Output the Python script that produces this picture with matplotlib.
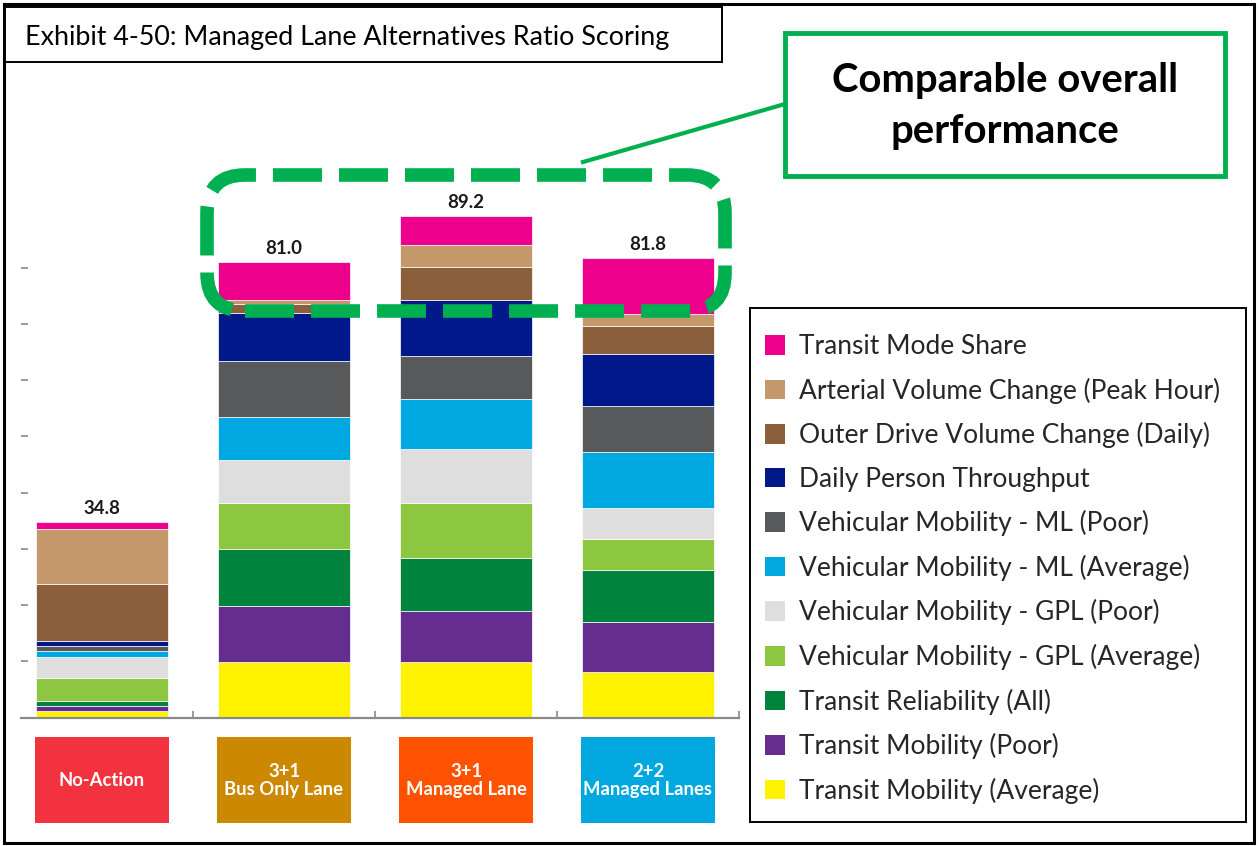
import matplotlib
matplotlib.use("Agg")
import matplotlib.pyplot as plt
from matplotlib.patches import Rectangle, FancyBboxPatch, Patch
from matplotlib.lines import Line2D
import numpy as np

plt.rcParams["font.family"] = ["Lato", "DejaVu Sans"]

# ---- data -------------------------------------------------------------
alternatives = ["No-Action", "3+1\nBus Only Lane", "3+1\nManaged Lane", "2+2\nManaged Lanes"]
alt_colors = ["#F2333F", "#CC8800", "#FF5200", "#00A8E0"]

# stacked from the bottom up
measures = [
    "Transit Mobility (Average)",
    "Transit Mobility (Poor)",
    "Transit Reliability (All)",
    "Vehicular Mobility - GPL (Average)",
    "Vehicular Mobility - GPL (Poor)",
    "Vehicular Mobility - ML (Average)",
    "Vehicular Mobility - ML (Poor)",
    "Daily Person Throughput",
    "Outer Drive Volume Change (Daily)",
    "Arterial Volume Change (Peak Hour)",
    "Transit Mode Share",
]
measure_colors = [
    "#FFF200", "#662D91", "#00843D", "#8DC63F", "#DEDEDE", "#00A8E1",
    "#58595B", "#00188A", "#8B5E3C", "#C4986B", "#EC008C",
]

transit_mobility_avg = [1.1, 9.9, 9.8, 8.1]
transit_mobility_poor = [0.9, 9.9, 9.1, 8.9]
transit_reliability = [1.0, 10.1, 9.5, 9.2]
gpl_average = [4.0, 8.3, 9.8, 5.6]
gpl_poor = [3.8, 7.6, 9.6, 5.5]
ml_average = [1.0, 7.7, 8.8, 9.9]
ml_poor = [0.9, 10.0, 7.7, 8.3]
person_throughput = [1.0, 8.5, 10.0, 9.1]
outer_drive_change = [10.0, 1.5, 5.9, 5.1]
arterial_change = [9.9, 0.8, 3.8, 2.1]
transit_mode_share = [1.2, 6.7, 5.2, 10.0]

series = [
    transit_mobility_avg, transit_mobility_poor, transit_reliability,
    gpl_average, gpl_poor, ml_average, ml_poor, person_throughput,
    outer_drive_change, arterial_change, transit_mode_share,
]
y_ticks = [0, 10, 20, 30, 40, 50, 60, 70, 80]

# ---- figure -----------------------------------------------------------
W, H = 1260, 846
fig = plt.figure(figsize=(W / 100, H / 100), dpi=100)
fig.patch.set_facecolor("white")


def px(x, y):
    """pixel position (from top-left) -> inches from bottom-left"""
    return (x / 100, (H - y) / 100)


inch = fig.dpi_scale_trans

# outer frame and exhibit title box
fig.add_artist(Rectangle(px(4, 843), 12.50, 8.39, transform=inch, fill=False,
                         ec="black", lw=2.2, zorder=1))
fig.add_artist(Rectangle(px(5, 62), 7.17, 0.55, transform=inch, fc="white",
                         ec="black", lw=1.4, zorder=2))
fig.text(*px(25, 37), "Exhibit 4-50: Managed Lane Alternatives Ratio Scoring",
         transform=inch, fontsize=19.35, va="center", ha="left", zorder=3)

# ---- stacked bars -----------------------------------------------------
ax = fig.add_axes([21 / W, (H - 717.5) / H, (739 - 21) / W, 562 / H])
ax.set_xlim(-0.445, 3.5)
ax.set_ylim(0, 100)
x = np.arange(len(alternatives))
bottom = np.zeros(len(alternatives))
containers = []
for vals, col in zip(series, measure_colors):
    c = ax.bar(x, vals, width=0.72, bottom=bottom, color=col,
               edgecolor="white", linewidth=0.5, zorder=2)
    containers.append(c)
    bottom += np.array(vals)

totals = bottom
ax.bar_label(containers[-1], labels=[f"{t:.1f}" for t in totals], padding=3.5,
             fontsize=13.5, fontweight="bold", color="#1a1a1a")

for s in ("top", "right", "left"):
    ax.spines[s].set_visible(False)
ax.spines["bottom"].set_color("#8a8a8a")
ax.spines["bottom"].set_linewidth(1.6)
ax.set_xticks([0.5, 1.5, 2.5, 3.5])
ax.set_xticklabels([])
ax.set_yticks(y_ticks)
ax.set_yticklabels([])
ax.tick_params(axis="x", direction="in", length=5, width=1.2, color="#8a8a8a")
ax.tick_params(axis="y", direction="in", length=5.2, width=1.2, color="#8a8a8a")
ax.set_facecolor("none")

# category badges under the axis
for i, (name, col) in enumerate(zip(alternatives, alt_colors)):
    ax.add_patch(Rectangle((i - 0.37, -18.8), 0.74, 15.3, fc=col, ec="none",
                           clip_on=False))
    ax.text(i, -11.15, name, ha="center", va="center", color="white",
            fontsize=13.3, fontweight="bold", linespacing=1.05, clip_on=False)

# ---- legend -----------------------------------------------------------
fig.add_artist(Rectangle(px(750, 822), (1246 - 750) / 100, (822 - 308) / 100,
                         transform=inch, fc="white", ec="black", lw=1.4, zorder=3))
handles = [Patch(facecolor=c, edgecolor="none") for c in measure_colors][::-1]
leg = fig.legend(handles, measures[::-1], loc="upper left",
                 bbox_to_anchor=(765 / W, 1 - 334 / H),
                 fontsize=19, frameon=False,
                 handlelength=0.76, handleheight=0.76, handletextpad=0.53,
                 labelspacing=0.70, borderpad=0, borderaxespad=0)
leg.set_zorder(4)
for t in leg.get_texts():
    t.set_color("#262626")

# ---- callout ----------------------------------------------------------
green = "#00B050"
fig.add_artist(FancyBboxPatch(px(207, 311), (725 - 207) / 100, (311 - 175) / 100,
                              boxstyle="round,pad=0,rounding_size=0.38",
                              transform=inch, fill=False, ec=green, lw=9.8,
                              ls=(0, (3.6, 1.25)), capstyle="butt", zorder=6))
fig.add_artist(Line2D([583 / 100, 785 / 100], [(H - 162) / 100, (H - 104) / 100],
                      transform=inch, color=green, lw=3, zorder=6))
fig.add_artist(Rectangle(px(785, 176), 4.40, 1.43, transform=inch, fc="white",
                         ec=green, lw=3.5, zorder=7))
fig.text(*px(1005, 106), "Comparable overall\nperformance", transform=inch,
         ha="center", va="center", fontsize=28.8, fontweight="bold",
         linespacing=1.48, zorder=8)

fig.savefig("out.png", dpi=100)
